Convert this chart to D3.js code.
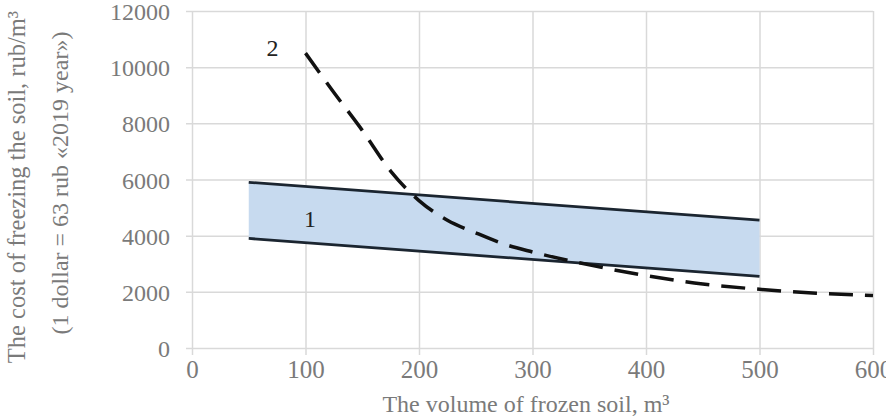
<!DOCTYPE html>
<html>
<head>
<meta charset="utf-8">
<script src="https://cdn.jsdelivr.net/npm/d3@7"></script>
<style>
  html, body { margin: 0; padding: 0; background: #fff; }
  svg { display: block; }
</style>
</head>
<body>
<svg id="chart" width="886" height="416"></svg>
<script>
// ---- data ----
const xTicks = [0, 100, 200, 300, 400, 500, 600];
const yTicks = [0, 2000, 4000, 6000, 8000, 10000, 12000];

// Band 1 (range of cost)
const bandX = [50, 500];
const bandUpper = [5900, 4550];
const bandLower = [3900, 2550];

// Curve 2 (dashed)
const curveX = [100, 125, 150, 175, 200, 225, 250, 275, 300, 350, 400, 450, 500, 550, 600];
const curveY = [10500, 9100, 7750, 6300, 5250, 4550, 4100, 3700, 3420, 2960, 2580, 2280, 2090, 1950, 1870];

const labelText = ["1", "2"];
const labelX = [104, 71];
const labelY = [4600, 10700];

const xTitle = "The volume of frozen soil, m³";
const yTitle1 = "The cost of freezing the soil, rub/m³";
const yTitle2 = "(1 dollar = 63 rub «2019 year»)";

// ---- layout ----
const W = 886, H = 416;
const m = { left: 192, right: 13, top: 11, bottom: 68 };
const iw = W - m.left - m.right, ih = H - m.top - m.bottom;

const svg = d3.select("#chart");
const g = svg.append("g").attr("transform", `translate(${m.left},${m.top})`);

const x = d3.scaleLinear().domain([0, 600]).range([0, iw]);
const y = d3.scaleLinear().domain([0, 12000]).range([ih, 0]);

const gridColor = "#d9d9d9";
const textColor = "#7a7a7a";
const font = "'Liberation Serif', 'Times New Roman', serif";

// gridlines + y axis
const yAxis = d3.axisLeft(y).tickValues(yTicks).tickSize(-iw).tickPadding(22).tickFormat(d3.format("d"));
const gy = g.append("g").call(yAxis);
gy.select(".domain").remove();
gy.selectAll(".tick line").attr("stroke", gridColor).attr("stroke-width", 1.5).attr("x1", -6).attr("x2", iw);
gy.selectAll(".tick text").attr("fill", textColor).style("font-family", font).style("font-size", "24px").attr("dy", "0.36em");

// gridlines + x axis
const xAxis = d3.axisBottom(x).tickValues(xTicks).tickSize(-ih).tickPadding(14).tickFormat(d3.format("d"));
const gx = g.append("g").attr("transform", `translate(0,${ih})`).call(xAxis);
gx.select(".domain").remove();
gx.selectAll(".tick line").attr("stroke", gridColor).attr("stroke-width", 1.5).attr("y1", 7).attr("y2", -ih);
gx.selectAll(".tick text").attr("fill", textColor).style("font-family", font).style("font-size", "25px").attr("dy", "0.62em");

// band
const band = bandX.map((d, i) => ({ x: d, lo: bandLower[i], hi: bandUpper[i] }));
g.append("path")
  .datum(band)
  .attr("fill", "#c7daef")
  .attr("d", d3.area().x(d => x(d.x)).y0(d => y(d.lo)).y1(d => y(d.hi)));

const lineColor = "#1b2530";
g.append("path").datum(band).attr("fill", "none").attr("stroke", lineColor).attr("stroke-width", 2.8)
  .attr("d", d3.line().x(d => x(d.x)).y(d => y(d.hi)));
g.append("path").datum(band).attr("fill", "none").attr("stroke", lineColor).attr("stroke-width", 2.8)
  .attr("d", d3.line().x(d => x(d.x)).y(d => y(d.lo)));

// dashed curve
const curve = curveX.map((d, i) => ({ x: d, y: curveY[i] }));
g.append("path").datum(curve).attr("fill", "none").attr("stroke", "#111").attr("stroke-width", 3.5)
  .attr("stroke-dasharray", "24,12")
  .attr("d", d3.line().curve(d3.curveMonotoneX).x(d => x(d.x)).y(d => y(d.y)));

// labels
labelText.forEach((t, i) => {
  g.append("text").attr("x", x(labelX[i])).attr("y", y(labelY[i]))
    .attr("text-anchor", "middle").attr("dy", "0.35em")
    .attr("fill", "#222").style("font-family", font).style("font-size", "24px").text(t);
});

// axis titles
svg.append("text").attr("x", 526).attr("y", 412).attr("text-anchor", "middle")
  .attr("fill", textColor).style("font-family", font).style("font-size", "24px").text(xTitle);

svg.append("text").attr("transform", "translate(25,187) rotate(-90)").attr("text-anchor", "middle")
  .attr("fill", textColor).style("font-family", font).style("font-size", "24.5px").text(yTitle1);
svg.append("text").attr("transform", "translate(68,183) rotate(-90)").attr("text-anchor", "middle")
  .attr("fill", textColor).style("font-family", font).style("font-size", "24px").text(yTitle2);
</script>
</body>
</html>
